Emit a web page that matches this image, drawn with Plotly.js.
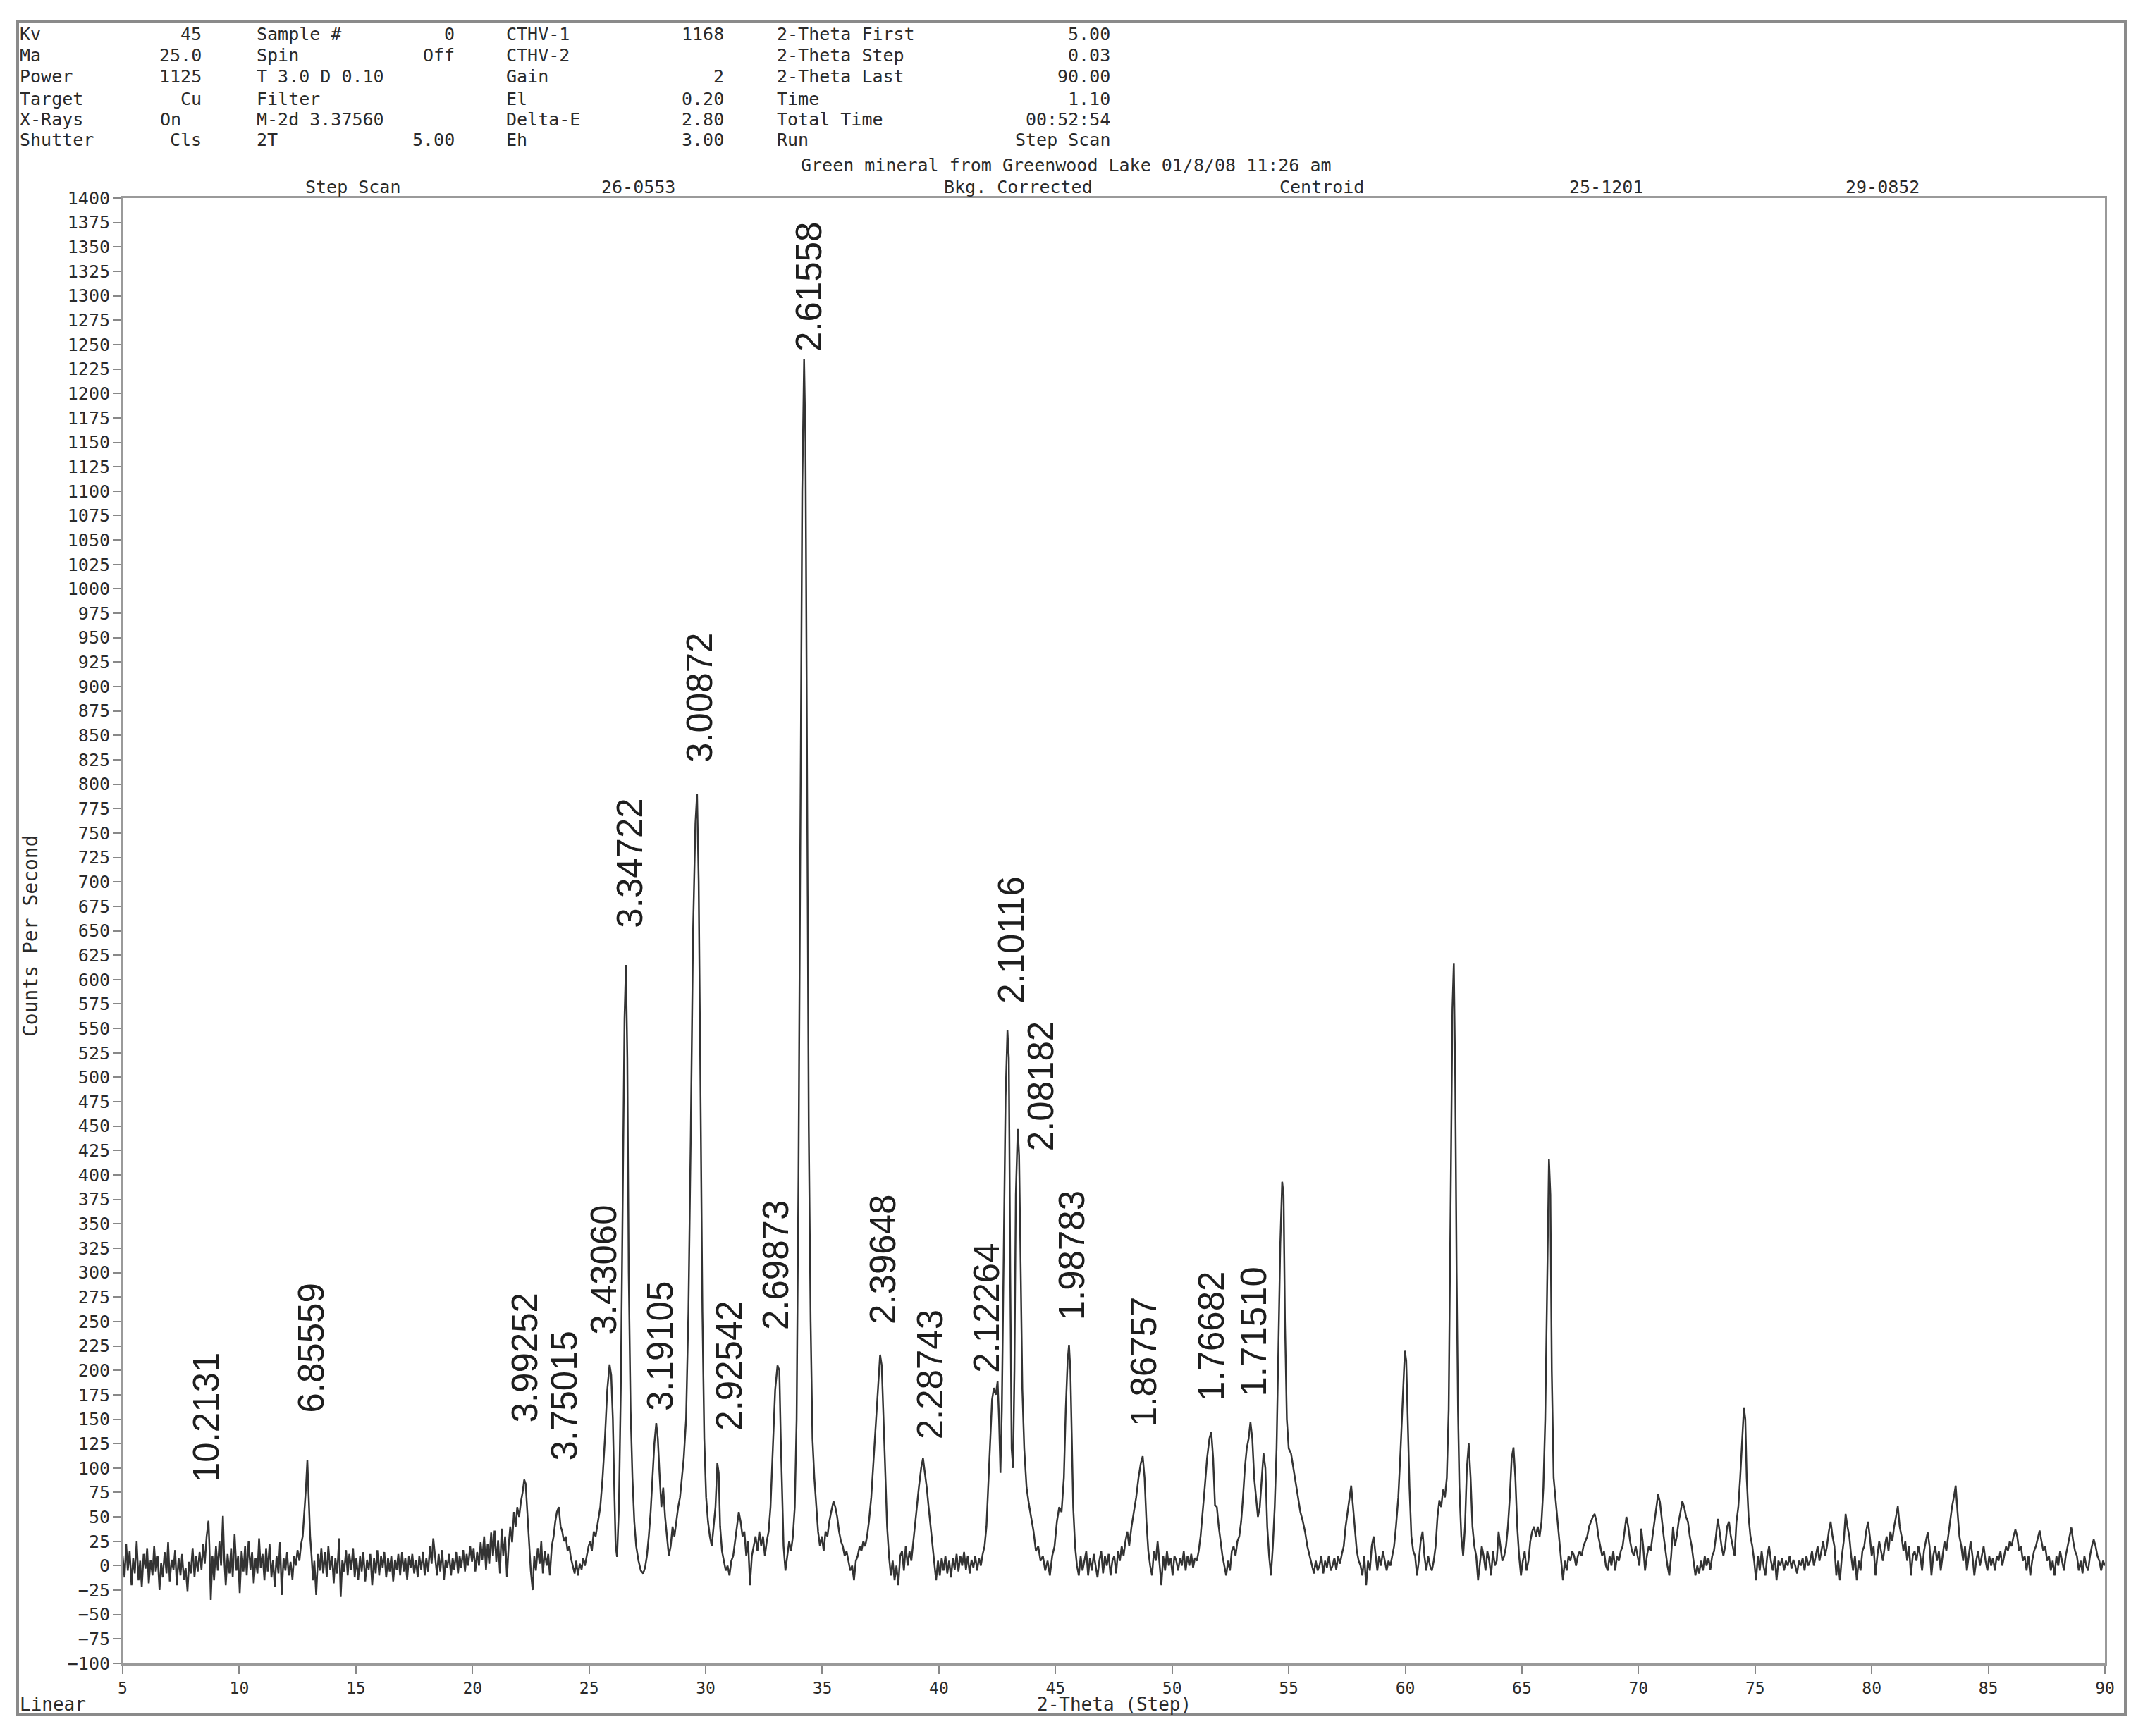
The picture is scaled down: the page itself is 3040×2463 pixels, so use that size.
<!DOCTYPE html>
<html>
<head>
<meta charset="utf-8">
<script src="https://cdn.plot.ly/plotly-3.0.1.min.js"></script>
<style>
  html, body { margin: 0; padding: 0; background: #fff; }
  #chart { width: 3040px; height: 2463px; }
</style>
</head>
<body>
<div id="chart"></div>
<script>
// step scan: pairs of 2-theta, counts per second
var scan5to22 = [
  5.00,10, 5.08,-12, 5.15,22, 5.22,-5, 5.30,15, 5.38,-20, 5.45,8, 5.52,-8, 5.60,25, 5.68,-15,
  5.75,5, 5.82,-22, 5.90,12, 5.98,-3, 6.05,18, 6.12,-18, 6.20,6, 6.28,-10, 6.35,20, 6.42,-6,
  6.50,10, 6.58,-25, 6.65,3, 6.72,-12, 6.80,14, 6.88,-8, 6.95,24, 7.02,-16, 7.10,6, 7.18,-4,
  7.25,16, 7.32,-20, 7.40,8, 7.48,-10, 7.55,12, 7.62,-14, 7.70,-2, 7.78,-26, 7.85,4, 7.92,-8,
  8.00,18, 8.08,-12, 8.15,10, 8.22,-6, 8.30,14, 8.38,-4, 8.45,22, 8.52,2, 8.60,30, 8.68,46,
  8.72,20, 8.78,-35, 8.85,10, 8.92,-15, 9.00,20, 9.08,-5, 9.15,25, 9.22,0, 9.30,51, 9.35,10,
  9.42,-20, 9.50,12, 9.58,-8, 9.65,18, 9.72,-12, 9.80,32, 9.88,-5, 9.95,10, 10.02,-28, 10.10,15,
  10.18,-6, 10.25,20, 10.32,-10, 10.40,25, 10.48,-4, 10.55,14, 10.62,-18, 10.70,8, 10.78,-8, 10.85,28,
  10.92,-2, 11.00,12, 11.08,-15, 11.15,18, 11.22,-6, 11.30,22, 11.38,-12, 11.45,6, 11.52,-22, 11.60,10,
  11.68,-8, 11.75,24, 11.82,-30, 11.90,8, 11.98,-5, 12.05,14, 12.12,-10, 12.20,4, 12.28,-14, 12.35,10,
  12.42,0, 12.50,16, 12.58,5, 12.65,22, 12.72,30, 12.80,55, 12.86,80, 12.92,108, 12.98,70, 13.04,30,
  13.10,10, 13.16,-15, 13.22,5, 13.30,-30, 13.38,12, 13.45,-5, 13.52,18, 13.60,-8, 13.68,14, 13.75,-12,
  13.82,20, 13.90,-4, 13.98,10, 14.05,-18, 14.12,8, 14.20,-8, 14.28,28, 14.35,-32, 14.42,6, 14.50,-6,
  14.58,16, 14.65,-10, 14.72,12, 14.80,-4, 14.88,18, 14.95,-12, 15.02,8, 15.10,-14, 15.18,10, 15.25,-6,
  15.32,14, 15.40,-16, 15.48,6, 15.55,-4, 15.62,12, 15.70,-20, 15.78,8, 15.85,-8, 15.92,16, 16.00,-10,
  16.08,10, 16.15,-2, 16.22,14, 16.30,-12, 16.38,8, 16.45,-6, 16.52,10, 16.60,-16, 16.68,6, 16.75,-4,
  16.82,12, 16.90,-10, 16.98,14, 17.05,-6, 17.12,8, 17.20,-14, 17.28,10, 17.35,-2, 17.42,12, 17.50,-8,
  17.58,6, 17.65,-12, 17.72,10, 17.80,-4, 17.88,14, 17.95,-10, 18.02,8, 18.10,-6, 18.18,20, 18.25,2,
  18.32,28, 18.40,8, 18.48,-10, 18.55,12, 18.62,-6, 18.70,16, 18.78,-14, 18.85,6, 18.92,-2, 19.00,12,
  19.08,-10, 19.15,8, 19.22,-4, 19.30,14, 19.38,-8, 19.45,10, 19.52,-2, 19.60,16, 19.68,-6, 19.75,12,
  19.82,0, 19.90,20, 19.98,4, 20.05,18, 20.12,-6, 20.20,14, 20.28,0, 20.35,24, 20.42,6, 20.50,30,
  20.58,-4, 20.65,22, 20.72,2, 20.80,34, 20.88,10, 20.95,36, 21.02,4, 21.10,26, 21.18,-8, 21.25,38,
  21.32,10, 21.40,30, 21.48,-12, 21.55,20, 21.62,40, 21.70,24, 21.78,55, 21.85,40, 21.92,60, 22.00,50
];

var scan22to45 = [
  22.08,66, 22.15,75, 22.22,88, 22.28,84, 22.35,55, 22.42,20, 22.50,-5, 22.58,-25, 22.65,10, 22.72,-5,
  22.80,18, 22.88,2, 22.95,25, 23.02,-8, 23.10,15, 23.18,0, 23.25,12, 23.32,-10, 23.40,20, 23.48,30,
  23.55,45, 23.62,55, 23.70,60, 23.78,40, 23.85,35, 23.92,25, 24.00,30, 24.08,15, 24.15,20, 24.22,8,
  24.30,0, 24.38,-8, 24.45,5, 24.52,-10, 24.60,2, 24.68,-4, 24.75,8, 24.82,0, 24.90,10, 24.98,20,
  25.05,25, 25.12,15, 25.20,35, 25.28,30, 25.38,45, 25.48,60, 25.58,90, 25.68,130, 25.78,180, 25.88,206,
  25.95,195, 26.02,150, 26.08,80, 26.14,20, 26.20,9, 26.28,60, 26.36,180, 26.44,380, 26.52,560, 26.58,615,
  26.64,520, 26.70,300, 26.78,160, 26.86,90, 26.94,45, 27.02,20, 27.12,5, 27.22,-5, 27.32,-8, 27.40,-2,
  27.48,10, 27.56,30, 27.64,55, 27.72,90, 27.80,125, 27.88,146, 27.95,130, 28.02,95, 28.10,60, 28.18,80,
  28.26,50, 28.34,30, 28.42,10, 28.50,20, 28.58,40, 28.66,30, 28.74,45, 28.82,60, 28.90,70, 28.98,90,
  29.06,110, 29.16,150, 29.26,260, 29.36,440, 29.46,650, 29.56,760, 29.63,790, 29.70,700, 29.78,480, 29.86,260,
  29.94,130, 30.02,70, 30.10,45, 30.18,30, 30.26,20, 30.34,40, 30.42,60, 30.50,105, 30.56,95, 30.62,40,
  30.70,15, 30.78,5, 30.86,-5, 30.94,0, 31.02,-10, 31.10,5, 31.18,10, 31.26,25, 31.34,40, 31.42,55,
  31.50,45, 31.58,30, 31.66,35, 31.74,10, 31.82,25, 31.90,-20, 31.98,10, 32.06,20, 32.14,30, 32.22,15,
  32.30,35, 32.38,20, 32.46,30, 32.54,10, 32.62,25, 32.70,35, 32.78,60, 32.88,120, 32.98,180, 33.08,205,
  33.16,200, 33.22,130, 33.28,80, 33.34,20, 33.42,-5, 33.50,10, 33.58,25, 33.66,15, 33.74,30, 33.82,60,
  33.90,150, 33.98,400, 34.06,800, 34.14,1100, 34.22,1235, 34.28,1150, 34.34,850, 34.42,450, 34.50,250, 34.58,130,
  34.66,90, 34.74,60, 34.82,35, 34.90,20, 34.98,30, 35.06,15, 35.14,35, 35.22,30, 35.30,45, 35.38,55,
  35.48,66, 35.56,60, 35.64,50, 35.72,35, 35.80,25, 35.88,20, 35.96,10, 36.04,15, 36.12,5, 36.20,-5,
  36.28,0, 36.36,-15, 36.44,5, 36.52,10, 36.60,20, 36.68,15, 36.76,25, 36.84,20, 36.92,30, 37.00,45,
  37.10,70, 37.20,110, 37.30,150, 37.40,190, 37.48,216, 37.55,205, 37.62,150, 37.70,90, 37.78,40, 37.86,10,
  37.94,-10, 38.02,5, 38.10,-15, 38.18,0, 38.26,-20, 38.34,10, 38.42,15, 38.50,-5, 38.58,20, 38.66,0,
  38.74,15, 38.82,5, 38.90,25, 38.98,45, 39.06,60, 39.14,80, 39.24,100, 39.32,110, 39.40,95, 39.48,80,
  39.56,60, 39.64,40, 39.72,20, 39.80,0, 39.88,-15, 39.96,5, 40.04,-10, 40.12,8, 40.20,-5, 40.28,10,
  40.36,-8, 40.44,5, 40.52,-12, 40.60,8, 40.68,-4, 40.76,12, 40.84,-6, 40.92,10, 41.00,0, 41.08,14,
  41.16,-4, 41.24,10, 41.32,-8, 41.40,6, 41.48,-2, 41.56,10, 41.64,-5, 41.72,8, 41.80,0, 41.88,12,
  41.96,20, 42.04,40, 42.12,80, 42.20,130, 42.28,170, 42.36,182, 42.44,175, 42.52,189, 42.58,150, 42.64,95,
  42.70,160, 42.78,320, 42.86,480, 42.94,548, 43.00,520, 43.06,300, 43.12,120, 43.18,100, 43.24,200, 43.30,380,
  43.38,447, 43.44,420, 43.50,300, 43.58,180, 43.66,120, 43.76,80, 43.86,63, 43.96,50, 44.06,35, 44.16,15,
  44.26,20, 44.36,5, 44.46,10, 44.56,-5, 44.66,5, 44.76,-10, 44.86,10, 44.96,20
];

var scan45to70 = [
  45.06,45, 45.16,60, 45.26,55, 45.36,90, 45.44,160, 45.52,210, 45.58,226, 45.64,200, 45.70,120, 45.76,60,
  45.84,20, 45.92,0, 46.00,-10, 46.08,10, 46.16,-5, 46.24,5, 46.32,15, 46.40,-10, 46.48,8, 46.56,-5,
  46.64,12, 46.72,0, 46.80,-12, 46.88,5, 46.96,15, 47.04,-8, 47.12,10, 47.20,0, 47.28,12, 47.36,-10,
  47.44,5, 47.52,10, 47.60,-8, 47.68,15, 47.76,5, 47.84,20, 47.92,10, 48.00,25, 48.08,35, 48.16,20,
  48.26,40, 48.36,55, 48.46,70, 48.56,90, 48.66,105, 48.74,112, 48.82,90, 48.90,45, 48.98,15, 49.06,0,
  49.14,-10, 49.22,15, 49.30,5, 49.38,25, 49.46,0, 49.54,-20, 49.62,10, 49.70,-5, 49.78,15, 49.86,0,
  49.94,8, 50.02,-10, 50.10,10, 50.18,5, 50.26,-5, 50.34,8, 50.42,0, 50.50,15, 50.58,-5, 50.66,10,
  50.74,0, 50.82,12, 50.90,-2, 50.98,8, 51.06,5, 51.14,15, 51.22,30, 51.30,50, 51.40,80, 51.50,110,
  51.60,130, 51.68,137, 51.76,110, 51.84,62, 51.92,60, 52.00,40, 52.08,25, 52.16,10, 52.24,0, 52.32,-10,
  52.40,5, 52.48,-5, 52.56,15, 52.64,20, 52.72,10, 52.80,25, 52.88,30, 52.96,45, 53.04,70, 53.12,100,
  53.20,120, 53.28,130, 53.36,147, 53.44,130, 53.52,90, 53.60,70, 53.68,50, 53.76,60, 53.84,90, 53.92,115,
  54.00,100, 54.08,40, 54.16,10, 54.24,-10, 54.32,20, 54.40,60, 54.48,120, 54.56,220, 54.64,330, 54.72,393,
  54.78,380, 54.84,250, 54.92,150, 55.00,120, 55.10,115, 55.20,100, 55.30,86, 55.40,70, 55.50,55, 55.60,46,
  55.70,35, 55.80,20, 55.90,10, 56.00,0, 56.08,-8, 56.16,5, 56.24,-5, 56.32,0, 56.40,10, 56.48,-8,
  56.56,5, 56.64,-2, 56.72,10, 56.80,-5, 56.88,0, 56.96,8, 57.04,-4, 57.12,10, 57.20,2, 57.28,12,
  57.36,20, 57.44,40, 57.52,55, 57.60,70, 57.68,82, 57.76,60, 57.84,35, 57.92,15, 58.00,5, 58.08,0,
  58.16,-10, 58.24,10, 58.32,-20, 58.40,5, 58.48,-5, 58.56,20, 58.64,30, 58.72,10, 58.80,-5, 58.88,10,
  58.96,0, 59.04,15, 59.12,5, 59.20,-5, 59.28,5, 59.36,0, 59.44,10, 59.52,20, 59.60,40, 59.70,70,
  59.80,120, 59.90,180, 59.98,220, 60.04,210, 60.10,150, 60.18,80, 60.26,30, 60.34,15, 60.42,10, 60.50,-10,
  60.58,5, 60.66,25, 60.74,35, 60.82,10, 60.90,-5, 60.98,10, 61.06,0, 61.14,-5, 61.22,5, 61.30,20,
  61.38,50, 61.46,67, 61.54,60, 61.62,78, 61.70,70, 61.78,90, 61.86,160, 61.94,350, 62.02,570, 62.08,617,
  62.14,500, 62.20,300, 62.26,160, 62.32,80, 62.40,30, 62.48,10, 62.56,40, 62.64,100, 62.72,125, 62.80,90,
  62.88,40, 62.96,20, 63.04,10, 63.12,-15, 63.20,5, 63.28,20, 63.36,10, 63.44,-5, 63.52,15, 63.60,5,
  63.68,-10, 63.76,15, 63.84,0, 63.92,5, 64.00,35, 64.08,20, 64.16,5, 64.24,10, 64.32,20, 64.40,40,
  64.48,70, 64.56,110, 64.64,121, 64.72,90, 64.80,40, 64.88,10, 64.96,-10, 65.04,5, 65.12,15, 65.20,-5,
  65.28,5, 65.36,25, 65.44,35, 65.52,40, 65.60,30, 65.68,40, 65.76,30, 65.84,45, 65.92,80, 66.00,150,
  66.08,300, 66.16,416, 66.22,380, 66.28,200, 66.36,90, 66.44,70, 66.52,45, 66.60,30, 66.68,10, 66.76,-15,
  66.84,5, 66.92,-5, 67.00,10, 67.08,5, 67.16,15, 67.24,10, 67.32,0, 67.40,10, 67.48,15, 67.56,10,
  67.64,20, 67.72,25, 67.80,30, 67.88,40, 67.96,45, 68.04,50, 68.12,53, 68.20,45, 68.28,30, 68.36,20,
  68.44,10, 68.52,15, 68.60,0, 68.68,-5, 68.76,10, 68.84,0, 68.92,15, 69.00,-5, 69.08,10, 69.16,5,
  69.24,15, 69.32,20, 69.40,35, 69.48,50, 69.56,40, 69.64,25, 69.72,15, 69.80,10, 69.88,20, 69.96,10
];

var scan70to90 = [
  70.04,0, 70.12,38, 70.20,20, 70.28,-5, 70.36,10, 70.44,20, 70.52,15, 70.60,30, 70.68,45, 70.76,60,
  70.84,73, 70.92,65, 71.00,45, 71.08,30, 71.16,15, 71.24,0, 71.32,-10, 71.40,10, 71.48,40, 71.56,20,
  71.64,30, 71.72,45, 71.80,55, 71.88,66, 71.96,60, 72.04,50, 72.12,45, 72.20,30, 72.28,20, 72.36,5,
  72.44,-10, 72.52,0, 72.60,-8, 72.68,5, 72.76,-5, 72.84,10, 72.92,0, 73.00,8, 73.08,-4, 73.16,10,
  73.24,15, 73.32,30, 73.40,48, 73.48,35, 73.56,20, 73.64,10, 73.72,20, 73.80,40, 73.88,45, 73.96,30,
  74.04,20, 74.12,10, 74.20,45, 74.28,60, 74.36,90, 74.44,130, 74.52,162, 74.58,150, 74.64,90, 74.72,50,
  74.80,30, 74.88,20, 74.96,5, 75.04,-15, 75.12,10, 75.20,-5, 75.28,15, 75.36,0, 75.44,-10, 75.52,10,
  75.60,20, 75.68,5, 75.76,-5, 75.84,10, 75.92,-15, 76.00,5, 76.08,0, 76.16,8, 76.24,-5, 76.32,5,
  76.40,0, 76.48,10, 76.56,-3, 76.64,6, 76.72,0, 76.80,-8, 76.88,5, 76.96,0, 77.04,8, 77.12,-5,
  77.20,10, 77.28,0, 77.36,5, 77.44,15, 77.52,0, 77.60,10, 77.68,20, 77.76,5, 77.84,15, 77.92,25,
  78.00,10, 78.08,20, 78.16,35, 78.24,45, 78.32,30, 78.40,20, 78.48,-10, 78.56,5, 78.64,-15, 78.72,10,
  78.80,25, 78.88,53, 78.96,40, 79.04,30, 79.12,10, 79.20,-5, 79.28,10, 79.36,-15, 79.44,5, 79.52,-5,
  79.60,15, 79.68,20, 79.76,35, 79.84,45, 79.92,30, 80.00,10, 80.08,20, 80.16,-10, 80.24,10, 80.32,25,
  80.40,15, 80.48,5, 80.56,20, 80.64,30, 80.72,15, 80.80,35, 80.88,25, 80.96,40, 81.04,50, 81.12,61,
  81.20,40, 81.28,30, 81.36,15, 81.44,25, 81.52,5, 81.60,20, 81.68,-10, 81.76,10, 81.84,15, 81.92,5,
  82.00,20, 82.08,10, 82.16,-5, 82.24,15, 82.32,25, 82.40,34, 82.48,20, 82.56,-10, 82.64,10, 82.72,20,
  82.80,5, 82.88,15, 82.96,-5, 83.04,10, 83.12,25, 83.20,15, 83.28,30, 83.36,45, 83.44,60, 83.52,70,
  83.60,82, 83.68,55, 83.76,30, 83.84,20, 83.92,5, 84.00,20, 84.08,-5, 84.16,10, 84.24,25, 84.32,10,
  84.40,-10, 84.48,5, 84.56,15, 84.64,0, 84.72,10, 84.80,20, 84.88,5, 84.96,-5, 85.04,10, 85.12,0,
  85.20,8, 85.28,-5, 85.36,10, 85.44,5, 85.52,15, 85.60,0, 85.68,10, 85.76,20, 85.84,15, 85.92,25,
  86.00,20, 86.08,30, 86.16,37, 86.24,30, 86.32,15, 86.40,20, 86.48,5, 86.56,10, 86.64,-5, 86.72,10,
  86.80,-10, 86.88,5, 86.96,15, 87.04,20, 87.12,28, 87.20,36, 87.28,25, 87.36,15, 87.44,20, 87.52,5,
  87.60,10, 87.68,-5, 87.76,5, 87.84,-10, 87.92,10, 88.00,0, 88.08,15, 88.16,5, 88.24,-5, 88.32,10,
  88.40,20, 88.48,30, 88.56,39, 88.64,25, 88.72,15, 88.80,10, 88.88,-5, 88.96,5, 89.04,-8, 89.12,10,
  89.20,0, 89.28,-5, 89.36,10, 89.44,20, 89.52,27, 89.60,20, 89.68,10, 89.76,5, 89.84,-5, 89.92,5,
  90.00,0
];

// d-spacing labels over the peaks: text, 2-theta of label, counts at label foot
var peakLabels = ['10.2131', '6.85559', '3.99252', '3.75015', '3.43060', '3.34722', '3.19105',
  '3.00872', '2.92542', '2.69873', '2.61558', '2.39648', '2.28743', '2.12264', '2.10116',
  '2.08182', '1.98783', '1.86757', '1.76682', '1.71510'];
var peakLabelX = [8.6, 13.1, 22.23, 23.95, 25.65, 26.75, 28.07, 29.74, 31.0, 33.0, 34.43,
  37.6, 39.65, 42.06, 43.1, 44.36, 45.7, 48.8, 51.7, 53.5];
var peakLabelY = [84, 155, 145, 106, 235, 651, 157, 821, 137, 240, 1241, 246, 128, 196, 574,
  423, 250, 141, 167, 172];

// instrument header block
var hdrName1 = ['Kv', 'Ma', 'Power', 'Target', 'X-Rays', 'Shutter'];
var hdrVal1 = ['45', '25.0', '1125', 'Cu', 'On', 'Cls'];
var hdrName2 = ['Sample #', 'Spin', 'T 3.0 D 0.10', 'Filter', 'M-2d 3.37560', '2T'];
var hdrVal2 = ['0', 'Off', '', '', '', '5.00'];
var hdrName3 = ['CTHV-1', 'CTHV-2', 'Gain', 'El', 'Delta-E', 'Eh'];
var hdrVal3 = ['1168', '', '2', '0.20', '2.80', '3.00'];
var hdrName4 = ['2-Theta First', '2-Theta Step', '2-Theta Last', 'Time', 'Total Time', 'Run'];
var hdrVal4 = ['5.00', '0.03', '90.00', '1.10', '00:52:54', 'Step Scan'];
var scanTitle = 'Green mineral from Greenwood Lake 01/8/08 11:26 am';
var subTitles = ['Step Scan', '26-0553', 'Bkg. Corrected', 'Centroid', '25-1201', '29-0852'];

function unpack(flat, xs, ys) {
  for (var i = 0; i < flat.length; i += 2) {
    xs.push(flat[i]);
    ys.push(flat[i + 1]);
  }
}

var twoTheta = [];
var counts = [];
unpack(scan5to22, twoTheta, counts);
unpack(scan22to45, twoTheta, counts);
unpack(scan45to70, twoTheta, counts);
unpack(scan70to90, twoTheta, counts);

// plot box in page pixels
var L = 174, R = 2986, T = 281, B = 2360;
function px(x) { return (x - L) / (R - L); }
function py(y) { return (B - y) / (B - T); }

var mono = 'DejaVu Sans Mono, Liberation Mono, monospace';
var ink = '#2b2b2b';
var annotations = [];

function addText(text, x, y, anchor, size) {
  if (!text) return;
  annotations.push({
    text: text, xref: 'paper', yref: 'paper', x: px(x), y: py(y),
    xanchor: anchor, yanchor: 'middle', showarrow: false, borderpad: 0,
    font: {family: mono, size: size || 25, color: ink}
  });
}

var rowY = [48, 79, 109, 140, 169, 198];
for (var i = 0; i < rowY.length; i++) {
  addText(hdrName1[i], 27, rowY[i], 'left');
  addText(hdrVal1[i], i == 4 ? 258 : 287, rowY[i], 'right');
  addText(hdrName2[i], 363, rowY[i], 'left');
  addText(hdrVal2[i], 646, rowY[i], 'right');
  addText(hdrName3[i], 717, rowY[i], 'left');
  addText(hdrVal3[i], 1028, rowY[i], 'right');
  addText(hdrName4[i], 1101, rowY[i], 'left');
  addText(hdrVal4[i], 1576, rowY[i], 'right');
}
addText(scanTitle, 1512, 235, 'center');
var subX = [500, 905, 1444, 1875, 2278, 2670];
for (var i = 0; i < subTitles.length; i++) {
  addText(subTitles[i], subX[i], 266, 'center');
}
addText('Linear', 27, 2418, 'left', 26);
addText('2-Theta (Step)', 1580, 2418, 'center', 26);

annotations.push({
  text: 'Counts Per Second', xref: 'paper', yref: 'paper', x: px(43), y: py(1328),
  textangle: -90, xanchor: 'center', yanchor: 'middle', showarrow: false,
  font: {family: mono, size: 28, color: ink}
});

for (var i = 0; i < peakLabels.length; i++) {
  annotations.push({
    text: peakLabels[i], xref: 'x', yref: 'y', x: peakLabelX[i], y: peakLabelY[i],
    textangle: -90, xanchor: 'center', yanchor: 'bottom', showarrow: false,
    font: {family: 'Liberation Sans, Arial, sans-serif', size: 51, color: '#1e1e1e'}
  });
}

var trace = {
  x: twoTheta,
  y: counts,
  type: 'scatter',
  mode: 'lines',
  line: {color: '#333', width: 2.5},
  hoverinfo: 'skip'
};

var axisStyle = {
  showline: true, mirror: true, linecolor: '#9a9a9a', linewidth: 3,
  ticks: 'outside', tickcolor: '#888', tickwidth: 2,
  showgrid: false, zeroline: false
};

var layout = {
  width: 3040,
  height: 2463,
  autosize: false,
  paper_bgcolor: '#fff',
  plot_bgcolor: '#fff',
  showlegend: false,
  margin: {l: L, r: 3040 - R, t: T, b: 2463 - B},
  xaxis: Object.assign({}, axisStyle, {
    range: [5, 90], tickmode: 'linear', tick0: 5, dtick: 5, ticklen: 12,
    tickfont: {family: mono, size: 23, color: ink}
  }),
  yaxis: Object.assign({}, axisStyle, {
    range: [-100, 1400], tickmode: 'linear', tick0: 0, dtick: 25, ticklen: 10,
    tickfont: {family: mono, size: 25, color: ink}
  }),
  annotations: annotations,
  shapes: [{
    type: 'rect', xref: 'paper', yref: 'paper', layer: 'below',
    x0: px(25), x1: px(3015), y0: py(2433), y1: py(31),
    line: {color: '#8a8a8a', width: 4}
  }]
};

Plotly.newPlot('chart', [trace], layout, {staticPlot: true, displayModeBar: false});
</script>
</body>
</html>
